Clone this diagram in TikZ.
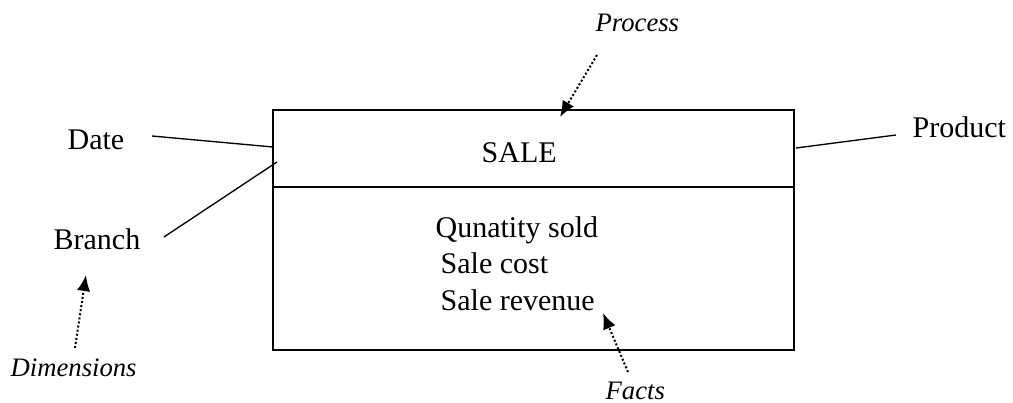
\documentclass[tikz,border=0pt]{standalone}
\usepackage{fontspec}
\setmainfont{Liberation Serif}
\usetikzlibrary{arrows.meta}

\begin{document}
\begin{tikzpicture}[x=0.75pt,y=-0.75pt,line width=1pt]
    \tikzstyle{label}=[inner sep=0pt,anchor=base west,font=\fontsize{22.5}{27}\selectfont]
    \tikzstyle{note}=[label,font=\fontsize{20}{24}\selectfont\itshape]
    \tikzstyle{link}=[draw=black]
    \tikzstyle{pointer}=[line width=1.5pt,dash pattern=on 1.5pt off 1.6pt,
                         -{Latex[length=12pt,width=10pt]}]

    \useasboundingbox (0,0) rectangle (1013,403);

    % The fact table box
    \node[draw,line width=1.2pt,inner sep=0pt,outer sep=0pt,
          minimum width=390.75pt,minimum height=180pt] (sale) at (533.5,230) {};
    \draw[line width=1.2pt] ([shift={(0,77)}]sale.north west) -- ([shift={(0,77)}]sale.north east);
    \node[label] (title) at (481,162) {SALE};

    % Measures held in the table
    \node[label] (fact-1) at (435,237) {Qunatity sold};
    \foreach \name / \y / \text in {2/273/Sale cost, 3/310/Sale revenue}
        \node[label] (fact-\name) at (440,\y) {\text};

    % Dimensions round the box
    \node[label] (date) at (67,149) {Date};
    \node[label] (branch) at (53,249) {Branch};
    \node[label] (product) at (912,137) {Product};

    \path[link] ([shift={(27,-13)}]date.base east) edge ([shift={(0,37)}]sale.north west);
    \path[link] ([shift={(23,-12)}]branch.base east) edge ([shift={(4,52)}]sale.north west);
    \path[link] ([shift={(-16,-2)}]product.base west) edge ([shift={(2,38)}]sale.north east);

    % Annotations
    \node[note] (process) at (595,32) {Process};
    \node[note] (dims) at (10,376) {Dimensions};
    \node[note] (facts) at (605,399) {Facts};

    \coordinate (process-tip) at (560,117);
    \coordinate (dims-tip) at (86,275);
    \coordinate (facts-tip) at (603,313);

    \draw[pointer] ([shift={(2,23)}]process.base west) -- (process-tip);
    \draw[pointer] ([shift={(65,-28)}]dims.base west) -- (dims-tip);
    \draw[pointer] ([shift={(23,-27)}]facts.base west) -- (facts-tip);
\end{tikzpicture}
\end{document}
